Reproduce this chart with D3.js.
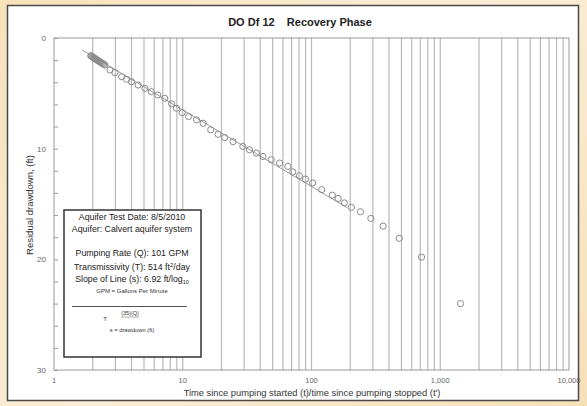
<!DOCTYPE html>
<html><head><meta charset="utf-8">
<script src="https://cdn.jsdelivr.net/npm/d3@7"></script>
<style>
html,body{margin:0;padding:0;}
body{width:587px;height:406px;overflow:hidden;background:linear-gradient(135deg,#f7e2bb 0%,#fbeed6 50%,#f6e0b8 100%);}
svg{display:block;font-family:"Liberation Sans",Arial,sans-serif;}
</style></head>
<body>
<svg id="c" width="587" height="406"></svg>
<script>
// ---- data ----
const titleText = "DO Df 12    Recovery Phase";
const xLabel = "Time since pumping started (t)/time since pumping stopped (t')";
const yLabel = "Residual drawdown, (ft)";
const xTickValues = [1, 10, 100, 1000, 10000];
const xTickLabels = ["1", "10", "100", "1,000", "10,000"];
const yTickValues = [0, 10, 20, 30];
const yMinorTicks = [0, 2, 4, 6, 8, 10, 12, 14, 16, 18, 20, 22, 24, 26, 28, 30];
// t/t' ratio
const ratio = [1.93,1.96,1.99,2.02,2.05,2.08,2.11,2.14,2.17,2.21,2.25,2.29,2.33,2.38,2.43,2.48,
  2.72,2.97,3.35,3.66,4.0,4.5,5.08,5.7,6.4,7.25,8.2,8.94,9.9,11.1,12.8,14.4,16.5,18.8,21.2,24.6,
  29.3,33,37.3,42,48.7,56.5,65.5,71.6,80.7,89.8,102,120,145,161,180,204,240,289,360,480,716,1436];
// residual drawdown (ft)
const drawdown = [1.6,1.65,1.7,1.76,1.81,1.86,1.91,1.96,2.0,2.06,2.12,2.18,2.24,2.3,2.37,2.44,
  2.89,3.13,3.5,3.73,3.95,4.25,4.55,4.85,5.15,5.45,5.95,6.35,6.75,7.1,7.4,7.7,8.3,8.7,9.0,9.37,
  9.8,10.1,10.4,10.7,11.0,11.3,11.6,12.1,12.45,12.75,13.1,13.7,14.2,14.5,14.9,15.3,15.7,16.3,17.0,18.1,19.8,24.0];
// fitted straight line endpoints [ratio, drawdown]
const fitLine = [[1.65, 1.08], [190, 15.35]];
const legendLines = [
  "Aquifer Test Date: 8/5/2010",
  "Aquifer: Calvert aquifer system",
  "Pumping Rate (Q): 101 GPM"
];

// ---- layout ----
const svg = d3.select("#c");
const L = 54, R = 569, T = 38, B = 370;
const x = d3.scaleLog().domain([1, 10000]).range([L, R]);
const y = d3.scaleLinear().domain([0, 30]).range([T, B]);

// white panel
svg.append("rect").attr("x", 7.5).attr("y", 5.5).attr("width", 571).attr("height", 395)
  .attr("fill", "#fff").attr("stroke", "#4a4a4a").attr("stroke-width", 1.5);

// title
svg.append("text").attr("x", 300).attr("y", 26).attr("text-anchor", "middle")
  .attr("font-size", 11).attr("font-weight", "bold").attr("fill", "#222")
  .style("white-space", "pre").text(titleText);

// vertical grid lines
const gridVals = x.ticks().filter(v => v > 1 && v < 10000);
svg.append("g").selectAll("line").data(gridVals).join("line")
  .attr("x1", d => x(d)).attr("x2", d => x(d)).attr("y1", T).attr("y2", B)
  .attr("stroke", "#b8b8b8").attr("stroke-width", 1.2);

// frame
svg.append("rect").attr("x", L).attr("y", T).attr("width", R - L).attr("height", B - T)
  .attr("fill", "none").attr("stroke", "#9a9a9a").attr("stroke-width", 1);

// y minor ticks
svg.append("g").attr("transform", `translate(${L},0)`)
  .call(d3.axisLeft(y).tickValues(yMinorTicks).tickSize(-4).tickFormat(""))
  .call(g => g.select(".domain").remove())
  .call(g => g.selectAll("line").attr("stroke", "#999"));

// y labels
svg.append("g").selectAll("text").data(yTickValues).join("text")
  .attr("x", L - 8).attr("y", d => y(d) + 3).attr("text-anchor", "end")
  .attr("font-size", 8).attr("fill", "#666").text(d => d);

// x labels
svg.append("g").selectAll("text").data(xTickValues).join("text")
  .attr("x", d => x(d)).attr("y", 383).attr("text-anchor", "middle")
  .attr("font-size", 7.5).attr("fill", "#666").text((d, i) => xTickLabels[i]);

// axis titles
svg.append("text").attr("x", 312).attr("y", 395.5).attr("text-anchor", "middle")
  .attr("font-size", 9.3).attr("fill", "#333").text(xLabel);
svg.append("text").attr("transform", "translate(33,205) rotate(-90)").attr("text-anchor", "middle")
  .attr("font-size", 9.5).attr("fill", "#333").text(yLabel);

// fitted line
svg.append("line")
  .attr("x1", x(fitLine[0][0])).attr("y1", y(fitLine[0][1]))
  .attr("x2", x(fitLine[1][0])).attr("y2", y(fitLine[1][1]))
  .attr("stroke", "#999").attr("stroke-width", 1);

// points
svg.append("g").selectAll("circle").data(ratio).join("circle")
  .attr("cx", d => x(d)).attr("cy", (d, i) => y(drawdown[i])).attr("r", 3.1)
  .attr("fill", "none").attr("stroke", "#8a8a8a").attr("stroke-width", 1);

// legend box
const lg = svg.append("g");
lg.append("rect").attr("x", 64).attr("y", 210).attr("width", 137).attr("height", 147)
  .attr("fill", "#fff").attr("stroke", "#333").attr("stroke-width", 1.5);
const cx = 132;
lg.append("text").attr("x", cx).attr("y", 220).attr("text-anchor", "middle").attr("font-size", 8.8).attr("fill", "#222").text(legendLines[0]);
lg.append("text").attr("x", cx).attr("y", 232).attr("text-anchor", "middle").attr("font-size", 8.8).attr("fill", "#222").text(legendLines[1]);
lg.append("text").attr("x", cx).attr("y", 256).attr("text-anchor", "middle").attr("font-size", 8.8).attr("fill", "#222").text(legendLines[2]);
const t2 = lg.append("text").attr("x", cx).attr("y", 270).attr("text-anchor", "middle").attr("font-size", 8.8).attr("fill", "#222");
t2.append("tspan").text("Transmissivity (T): 514 ft");
t2.append("tspan").attr("dy", -3).attr("font-size", 6).text("2");
t2.append("tspan").attr("dy", 3).text("/day");
const t3 = lg.append("text").attr("x", cx).attr("y", 282).attr("text-anchor", "middle").attr("font-size", 8.8).attr("fill", "#222");
t3.append("tspan").text("Slope of Line (s): 6.92 ft/log");
t3.append("tspan").attr("dy", 2).attr("font-size", 5.5).text("10");
lg.append("text").attr("x", cx).attr("y", 293).attr("text-anchor", "middle").attr("font-size", 6).attr("fill", "#333").text("GPM = Gallons Per Minute");
lg.append("line").attr("x1", 72).attr("x2", 187).attr("y1", 306.5).attr("y2", 306.5).attr("stroke", "#555").attr("stroke-width", 1);
lg.append("text").attr("x", 105).attr("y", 321).attr("text-anchor", "middle").attr("font-size", 6).attr("fill", "#333").text("T");
lg.append("text").attr("x", 130).attr("y", 315).attr("text-anchor", "middle").attr("font-size", 5.5).attr("fill", "#333").text("(35)(Q)");
lg.append("line").attr("x1", 121).attr("x2", 139).attr("y1", 317).attr("y2", 317).attr("stroke", "#777").attr("stroke-width", 0.6);
lg.append("text").attr("x", 132).attr("y", 332).attr("text-anchor", "middle").attr("font-size", 5.8).attr("fill", "#333").text("s = drawdown (ft)");
</script>
</body></html>
